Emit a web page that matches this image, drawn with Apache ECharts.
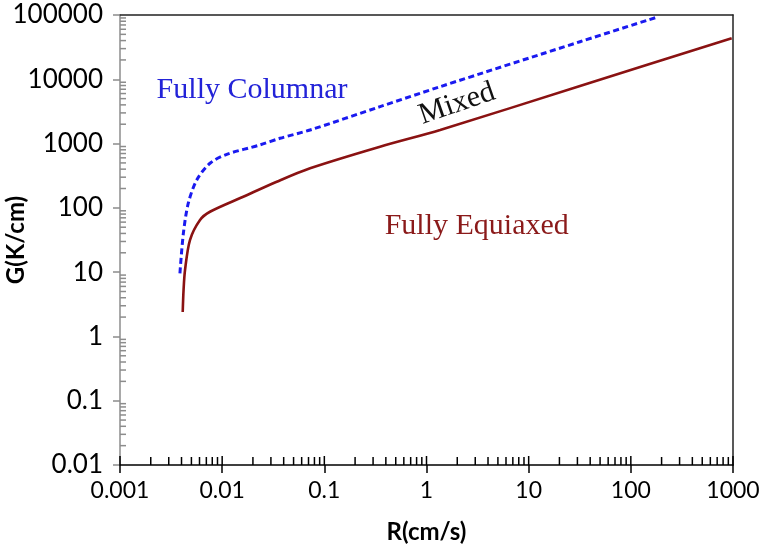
<!DOCTYPE html>
<html><head><meta charset="utf-8">
<script src="https://cdn.jsdelivr.net/npm/echarts@6/dist/echarts.min.js"></script>
<style>html,body{margin:0;padding:0;background:#fff}#c{width:767px;height:551px}</style>
</head><body><div id="c"></div>
<script>
// ---- data ----
const xTickLabels = ['0.001', '0.01', '0.1', '1', '10', '100', '1000'];
const yTickLabels = ['0.01', '0.1', '1', '10', '100', '1000', '10000', '100000'];

// Columnar-to-mixed boundary (blue dashed): R (cm/s), G (K/cm)
const colR = [0.00386, 0.00417, 0.00466, 0.00564, 0.0076, 0.0111, 0.0234, 0.0368, 0.0725, 0.351, 1.36, 31.8, 179];
const colG = [9.6, 40, 118, 271, 494, 680, 951, 1208, 1627, 3750, 7670, 38400, 92100];

// Mixed-to-equiaxed boundary (dark red solid)
const eqR = [0.00411, 0.00419, 0.00433, 0.00484, 0.00607, 0.0076, 0.0161, 0.0342, 0.0725, 0.351, 1.36, 31.8, 971];
const eqG = [2.4, 5.3, 10.8, 31.6, 64.7, 87, 149, 255, 413, 894, 1627, 7870, 43400];

// Region labels anchored in data space
const regionLabels = [
  { text: 'Fully Columnar', R: 0.0196, G: 6800, color: '#2323d8', rot: 0 },
  { text: 'Mixed', R: 1.99, G: 4150, color: '#111111', rot: 19 },
  { text: 'Fully Equiaxed', R: 3.1, G: 52, color: '#8b1a1a', rot: 0 }
];

const X_MIN = 0.001, X_MAX = 1000, Y_MIN = 0.01, Y_MAX = 100000;

// tick positions (axis decoration)
const xTicks = [], yTicks = [];
for (let k = -3; k <= 3; k++) {
  xTicks.push([Math.pow(10, k), Y_MIN, 1]);
  if (k < 3) for (let m = 2; m <= 9; m++) xTicks.push([m * Math.pow(10, k), Y_MIN, 0]);
}
for (let k = -2; k < 5; k++) {
  for (let m = 2; m <= 9; m++) yTicks.push([X_MIN, m * Math.pow(10, k), 0]);
}

const labelFmt = (labels, off) => v => labels[Math.round(Math.log10(v)) + off] || '';

const chart = echarts.init(document.getElementById('c'), null, { renderer: 'canvas' });

const option = {
  animation: false,
  backgroundColor: '#fff',
  grid: { left: 120, top: 15, right: 34, bottom: 86, containLabel: false, outerBoundsMode: 'none' },
  xAxis: [{
    type: 'log', logBase: 10, min: X_MIN, max: X_MAX, splitNumber: 6,
    position: 'bottom',
    axisLine: { onZero: false, lineStyle: { color: '#000', width: 1.5 } },
    axisTick: { show: true, inside: false, length: 8, lineStyle: { color: '#000', width: 1.5 } },
    splitLine: { show: false },
    axisLabel: { formatter: labelFmt(xTickLabels, 3), fontFamily: 'Lato', fontSize: 23, color: '#000', margin: 14 },
    name: 'R(cm/s)', nameLocation: 'middle', nameGap: 55, nameMoveOverlap: false,
    nameTextStyle: { fontFamily: 'Lato', fontWeight: 'bold', fontSize: 24, color: '#000' }
  }, {
    type: 'log', logBase: 10, min: X_MIN, max: X_MAX, position: 'top',
    axisLine: { onZero: false, lineStyle: { color: '#222', width: 1.5 } },
    axisTick: { show: false }, axisLabel: { show: false }, splitLine: { show: false }
  }],
  yAxis: [{
    type: 'log', logBase: 10, min: Y_MIN, max: Y_MAX, splitNumber: 7,
    position: 'left',
    axisLine: { onZero: false, lineStyle: { color: '#8c8c8c', width: 1.5 } },
    axisTick: { show: true, inside: false, length: 7, lineStyle: { color: '#8c8c8c', width: 1.5 } },
    splitLine: { show: false },
    axisLabel: { formatter: labelFmt(yTickLabels, 2), fontFamily: 'Lato', fontSize: 26, color: '#000', margin: 17 },
    name: 'G(K/cm)', nameLocation: 'middle', nameGap: 92, nameMoveOverlap: false,
    nameTextStyle: { fontFamily: 'Lato', fontWeight: 'bold', fontSize: 24, color: '#000' }
  }, {
    type: 'log', logBase: 10, min: Y_MIN, max: Y_MAX, position: 'right',
    axisLine: { onZero: false, lineStyle: { color: '#222', width: 1.5 } },
    axisTick: { show: false }, axisLabel: { show: false }, splitLine: { show: false }
  }],
  series: [
    {
      name: 'columnar', type: 'line', xAxisIndex: 0, yAxisIndex: 0,
      data: colR.map((r, i) => [r, colG[i]]),
      showSymbol: false, smooth: 0.3,
      lineStyle: { color: '#1a1af0', width: 3, type: [6, 3.5] }, z: 5
    },
    {
      name: 'equiaxed', type: 'line', xAxisIndex: 0, yAxisIndex: 0,
      data: eqR.map((r, i) => [r, eqG[i]]),
      showSymbol: false, smooth: 0.3,
      lineStyle: { color: '#8a1212', width: 2.6 }, z: 5
    },
    {
      name: 'xticks', type: 'custom', xAxisIndex: 0, yAxisIndex: 0, clip: false, silent: true,
      data: xTicks, encode: { x: 0, y: 1 },
      renderItem: (params, api) => {
        const p = api.coord([api.value(0), api.value(1)]);
        const L = api.value(2) ? 9 : 8;
        return { type: 'line', shape: { x1: p[0], y1: p[1], x2: p[0], y2: p[1] - L },
                 style: { stroke: '#000', lineWidth: 1.5 } };
      }
    },
    {
      name: 'yticks', type: 'custom', xAxisIndex: 0, yAxisIndex: 0, clip: false, silent: true,
      data: yTicks, encode: { x: 0, y: 1 },
      renderItem: (params, api) => {
        const p = api.coord([api.value(0), api.value(1)]);
        return { type: 'line', shape: { x1: p[0], y1: p[1], x2: p[0] + 6, y2: p[1] },
                 style: { stroke: '#8c8c8c', lineWidth: 1.5 } };
      }
    }
  ]
};
chart.setOption(option);

const graphics = regionLabels.map(l => {
  const p = chart.convertToPixel({ xAxisIndex: 0, yAxisIndex: 0 }, [l.R, l.G]);
  return {
    type: 'text', x: p[0], y: p[1], rotation: l.rot * Math.PI / 180, z: 10,
    style: { text: l.text, x: 0, y: 0, align: 'center', verticalAlign: 'middle',
             fill: l.color, fontFamily: 'Liberation Serif', fontSize: 30 }
  };
});
chart.setOption({ graphic: graphics });
</script>
</body></html>
